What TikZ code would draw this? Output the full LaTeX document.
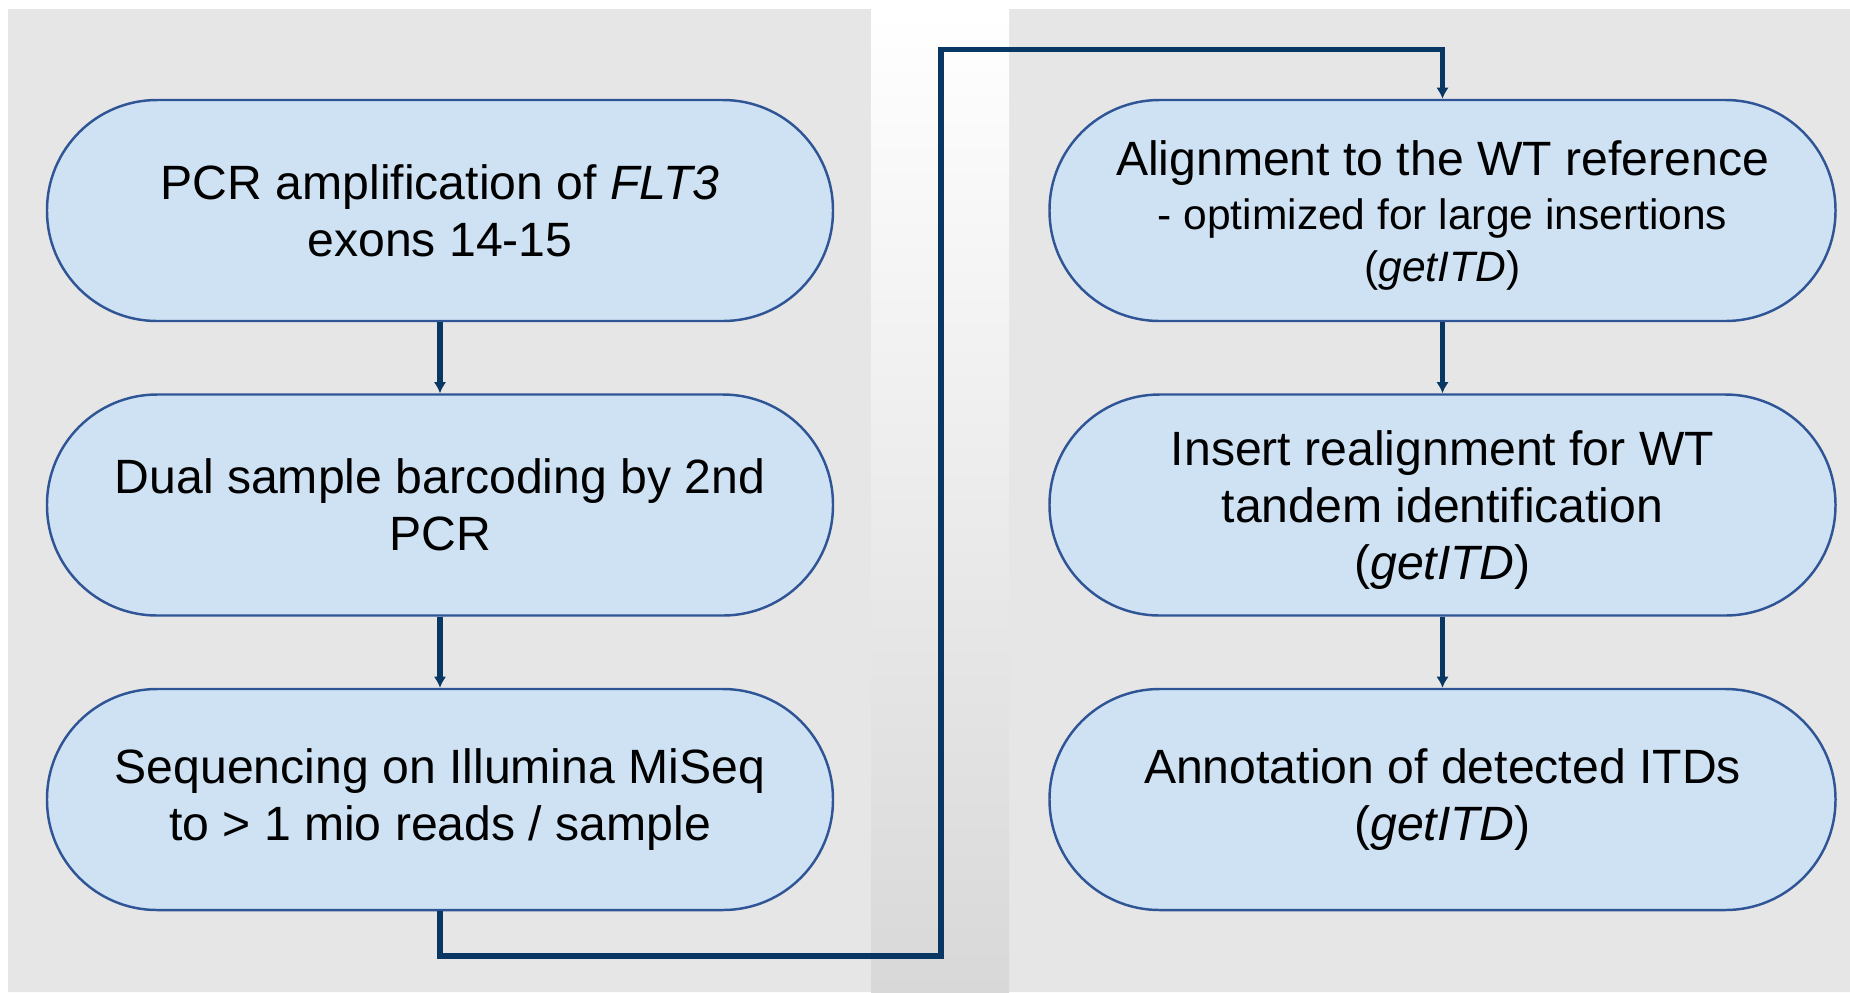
\documentclass[tikz,border=0pt]{standalone}
\usepackage{fontspec}
\setmainfont{Liberation Sans}
\usetikzlibrary{arrows.meta}
\definecolor{panelgray}{RGB}{230,230,230}
\definecolor{gapgray}{RGB}{216,216,216}
\definecolor{boxfill}{RGB}{207,226,243}
\definecolor{boxline}{RGB}{47,85,151}
\definecolor{flowline}{RGB}{8,55,99}
\newcommand{\mainsize}{\fontsize{13.7}{16.3}\selectfont}
\newcommand{\subsize}{\fontsize{12.1}{15}\selectfont}
\newcommand{\topstrut}{\rule{0pt}{0.45cm}}
\tikzset{>={Latex[length=3.2pt,width=3.6pt]}}

\begin{document}
\begin{tikzpicture}[line join = miter,
    stadium/.style={draw=boxline, line width=0.7pt, fill=boxfill, rounded corners=1.1cm,
        minimum width=7.86cm, minimum height=2.21cm, align=center, font=\mainsize, inner sep=0pt},
    flow/.style={draw=flowline, line width=1.5pt}]
    \useasboundingbox (0,0) rectangle (18.5,-9.92);
    \fill[white] (0,0) rectangle (18.5,-9.92);
    \fill[panelgray] (0.08,-0.09) rectangle (8.71,-9.92) (10.09,-0.09) rectangle (18.5,-9.92);
    \shade[top color=white, bottom color=gapgray] (8.71,-0.09) rectangle (10.09,-9.92);

    \node[stadium] (pcr) at (4.40,-2.105) {PCR amplification of \textit{FLT3}\\exons 14-15};
    \node[stadium] (barcode) at (4.40,-5.05) {Dual sample barcoding by 2nd\\PCR};
    \node[stadium] (seq) at (4.40,-7.995) {Sequencing on Illumina MiSeq\\to > 1 mio reads / sample};
    \node[stadium] (align) at (14.425,-2.105) {\topstrut Alignment to the WT reference\\[-1pt]\subsize - optimized for large insertions\\[-1.5pt]\subsize (\textit{getITD})};
    \node[stadium] (insert) at (14.425,-5.05) {\topstrut Insert realignment for WT\\tandem identification\\(\textit{getITD})};
    \node[stadium] (annot) at (14.425,-7.995) {Annotation of detected ITDs\\(\textit{getITD})};

    \coordinate (lowturn) at (9.41,-9.56);
    \coordinate (highturn) at (9.41,-0.495);

    \draw[flow,->] (pcr) -- (barcode);
    \draw[flow,->] (barcode) -- (seq);
    \draw[flow,->] (seq.south) |- (lowturn) -- (highturn) -| (align.north);
    \draw[flow,->] (align) -- (insert);
    \draw[flow,->] (insert) -- (annot);
\end{tikzpicture}
\end{document}
